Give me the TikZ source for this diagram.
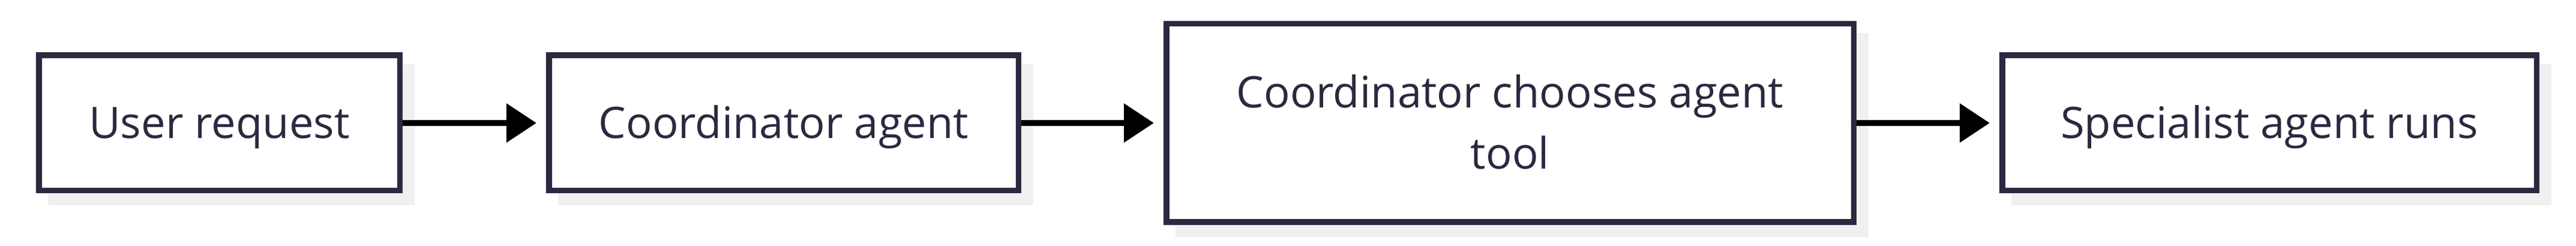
\documentclass[tikz,border=0pt]{standalone}
\usepackage{fontspec}
\setmainfont{Open Sans}
\usetikzlibrary{arrows.meta,backgrounds}
\definecolor{boxline}{HTML}{2A2940}
\definecolor{shadowgray}{HTML}{F0F0F0}
\begin{document}
\begin{tikzpicture}[
  stepbox/.style={draw=boxline,fill=white,line width=0.095cm,outer sep=0.0475cm,
    text=boxline,align=center,font=\fontsize{20.6}{29}\selectfont,minimum height=2.255cm,
    text height=14.6pt,text depth=0pt},
  flowarrow/.style={-{Triangle[length=0.5cm,width=0.63cm]},line width=0.1cm,shorten >=0.16cm},
  shadowbox/.style={fill=shadowgray}]
\useasboundingbox (0,0) rectangle (42.93,4.10);
\node [stepbox,minimum width=6.015cm] (user) at (3.655,2.05) {User request};
\node [stepbox,minimum width=7.825cm] (coord) at (13.06,2.05) {Coordinator agent};
\node [stepbox,minimum width=11.455cm,minimum height=3.305cm,text height=43.6pt] (choose) at (25.165,2.05) {Coordinator chooses agent\\tool};
\node [stepbox,minimum width=8.905cm] (spec) at (37.82,2.05) {Specialist agent runs};
\begin{scope}[on background layer]
\foreach \n in {user,coord,choose,spec}
  \fill [shadowbox] ([shift={(0.2,-0.2)}]\n.south west) rectangle ([shift={(0.2,-0.2)}]\n.north east);
\end{scope}
\draw [flowarrow] (user) -- (coord);
\draw [flowarrow] (coord) -- (choose);
\draw [flowarrow] (choose) -- (spec);
\end{tikzpicture}
\end{document}
